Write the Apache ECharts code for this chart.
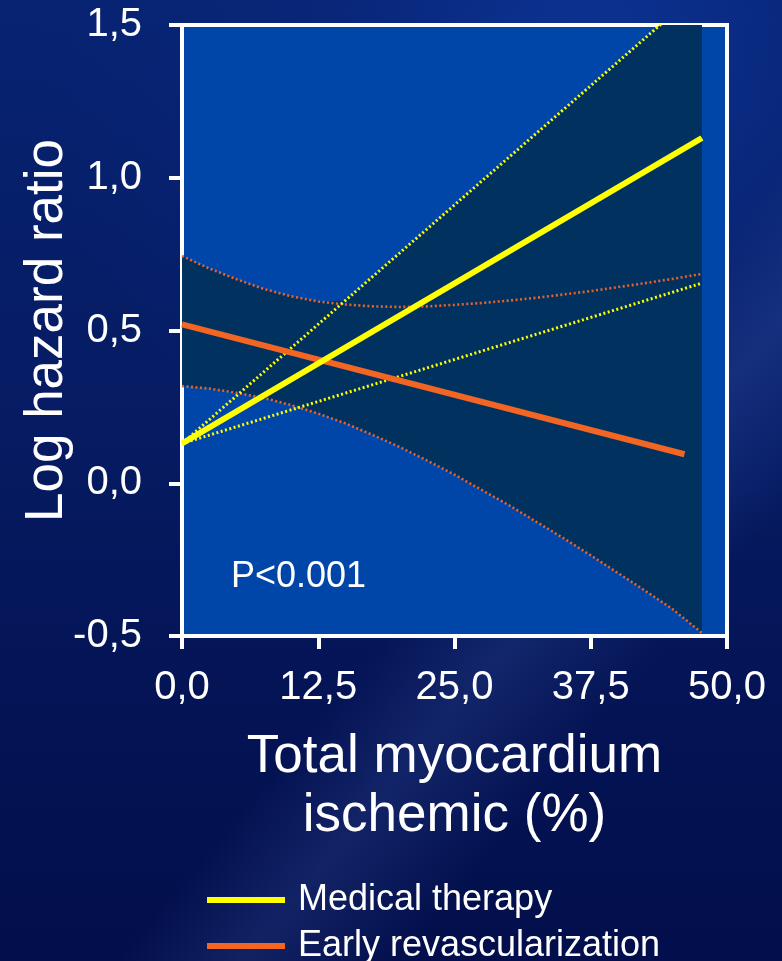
<!DOCTYPE html>
<html>
<head>
<meta charset="utf-8">
<script src="https://cdn.jsdelivr.net/npm/echarts@6/dist/echarts.min.js"></script>
<style>
html,body{margin:0;padding:0;}
body{width:782px;height:961px;overflow:hidden;
background:
 linear-gradient(130deg, rgba(0,0,0,0) 58%, rgba(70,100,180,0.22) 66%, rgba(0,0,0,0) 76%),
 radial-gradient(ellipse 70% 55% at 75% 5%, rgba(12,52,150,0.9) 0%, rgba(10,40,125,0.5) 50%, rgba(0,0,0,0) 100%),
 linear-gradient(180deg, #072372 0%, #061b62 45%, #041354 75%, #030f4c 100%);}
#chart{width:782px;height:961px;}
</style>
</head>
<body>
<div id="chart"></div>
<script>
// ---- data ----
const xTickLabels = ['0,0', '12,5', '25,0', '37,5', '50,0'];
const yTickLabels = ['-0,5', '0,0', '0,5', '1,0', '1,5'];

// Medical therapy (solid) and its confidence limits (straight lines)
const medX = [0, 47.7];
const medMean = [0.13, 1.13];
const medUpper = [0.13, 1.62];
const medLower = [0.13, 0.655];

// Early revascularization (solid)
const revX = [0, 46.1];
const revMean = [0.52, 0.095];

// Early revascularization confidence limits (curved)
const ciX = [0, 2.5, 5, 7.5, 10, 12.5, 15, 17.5, 20, 22.5, 25, 27.5, 30, 32.5, 35, 37.5, 40, 42.5, 45, 47.7];
const revUpper = [0.744, 0.703, 0.668, 0.636, 0.612, 0.595, 0.585, 0.579, 0.577, 0.579, 0.584, 0.590, 0.598, 0.607, 0.618, 0.629, 0.642, 0.655, 0.669, 0.685];
const revLower = [0.318, 0.310, 0.296, 0.279, 0.256, 0.228, 0.196, 0.158, 0.118, 0.074, 0.028, -0.022, -0.072, -0.126, -0.180, -0.236, -0.294, -0.352, -0.412, -0.49];

const seriesNames = ['Medical therapy', 'Early revascularization'];

const FONT = '"Liberation Sans", Arial, sans-serif';
const YELLOW = '#FFFF00';
const ORANGE = '#F26522';
const ORANGE_DOT = '#E8622C';

function pairs(xs, ys) { return xs.map((x, i) => [x, ys[i]]); }
// value of a straight line (given by two end points) at x
function lineAt(xs, ys, x) { return ys[0] + (ys[1] - ys[0]) * (x - xs[0]) / (xs[1] - xs[0]); }

// outline of the shaded confidence region: lower = revLower, upper = max(revUpper, medUpper)
const bandTop = ciX.map((x, i) => Math.max(revUpper[i], lineAt(medX, medUpper, x)));
const bandPoly = pairs(ciX, revLower).concat(pairs(ciX, bandTop).reverse());

function legendAt(name, top) {
  return {
    orient: 'horizontal', left: 207, top: top, padding: 0,
    icon: 'rect', itemWidth: 78, itemHeight: 6,
    textStyle: {color: '#fff', fontSize: 36, fontFamily: FONT, lineHeight: 36, padding: [0, 0, 0, 8]},
    data: [name]
  };
}

const chart = echarts.init(document.getElementById('chart'), null, {renderer: 'canvas'});
const option = {
  backgroundColor: 'transparent',
  animation: false,
  textStyle: {fontFamily: FONT},
  grid: {
    left: 182, right: 55, top: 25, bottom: 325,
    show: true, backgroundColor: '#0046A9', borderColor: '#ffffff', borderWidth: 4
  },
  xAxis: {
    type: 'value', min: 0, max: 50, interval: 12.5,
    axisLine: {onZero: false, lineStyle: {color: '#fff', width: 4}},
    axisTick: {show: true, length: 13, lineStyle: {color: '#fff', width: 4}},
    splitLine: {show: false},
    axisLabel: {
      color: '#fff', fontSize: 40, fontFamily: FONT, margin: 32,
      formatter: (v) => xTickLabels[Math.round(v / 12.5)]
    },
    name: 'Total myocardium\nischemic (%)',
    nameLocation: 'middle', nameGap: 92, nameMoveOverlap: false,
    nameTextStyle: {color: '#fff', fontSize: 53, fontFamily: FONT, lineHeight: 59}
  },
  yAxis: {
    type: 'value', min: -0.5, max: 1.5, interval: 0.5,
    axisLine: {onZero: false, lineStyle: {color: '#fff', width: 4}},
    axisTick: {show: true, length: 13, lineStyle: {color: '#fff', width: 4}},
    splitLine: {show: false},
    axisLabel: {
      color: '#fff', fontSize: 40, fontFamily: FONT, margin: 40,
      formatter: (v) => yTickLabels[Math.round((v + 0.5) / 0.5)]
    },
    name: 'Log hazard ratio',
    nameLocation: 'middle', nameGap: 108, nameMoveOverlap: false,
    nameTextStyle: {color: '#fff', fontSize: 53, fontFamily: FONT}
  },
  legend: [legendAt(seriesNames[0], 882), legendAt(seriesNames[1], 928)],
  graphic: [{
    type: 'text', left: 231, top: 559, z: 100,
    style: {text: 'P<0.001', fill: '#fff', font: '36px ' + FONT}
  }],
  series: [
    {
      name: 'band', type: 'custom', clip: true, silent: true, z: 1,
      data: [0],
      renderItem: function (params, api) {
        const pts = bandPoly.map(p => api.coord(p));
        return {type: 'polygon', shape: {points: pts}, style: {fill: '#01325F'}};
      }
    },
    {
      name: 'revUpper', type: 'line', data: pairs(ciX, revUpper), symbol: 'none', z: 3,
      lineStyle: {color: ORANGE_DOT, width: 2.6, type: [2, 2.5]}
    },
    {
      name: 'revLower', type: 'line', data: pairs(ciX, revLower), symbol: 'none', z: 3,
      lineStyle: {color: ORANGE_DOT, width: 2.6, type: [2, 2.5]}
    },
    {
      name: 'medUpper', type: 'line', data: pairs(medX, medUpper), symbol: 'none', z: 3,
      lineStyle: {color: YELLOW, width: 3, type: [2, 2.5]}
    },
    {
      name: 'medLower', type: 'line', data: pairs(medX, medLower), symbol: 'none', z: 3,
      lineStyle: {color: YELLOW, width: 3, type: [2, 2.5]}
    },
    {
      name: seriesNames[1], type: 'line', data: pairs(revX, revMean), symbol: 'none', z: 4,
      color: ORANGE, itemStyle: {color: ORANGE},
      lineStyle: {color: ORANGE, width: 6}
    },
    {
      name: seriesNames[0], type: 'line', data: pairs(medX, medMean), symbol: 'none', z: 5,
      color: YELLOW, itemStyle: {color: YELLOW},
      lineStyle: {color: YELLOW, width: 6}
    }
  ]
};
chart.setOption(option);
</script>
</body>
</html>
